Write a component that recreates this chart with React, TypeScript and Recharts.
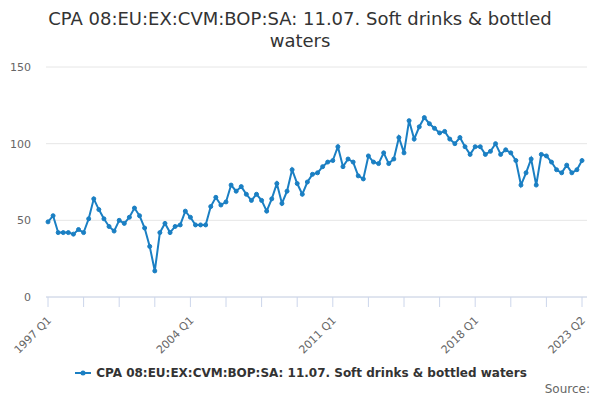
import React from 'react'
import { LineChart, Line, XAxis, YAxis, CartesianGrid } from 'recharts'

// quarterly index, 1997 Q1 .. 2023 Q2
const quarters: string[] = []
for (let y = 1997; y <= 2023; y++) {
    for (let q = 1; q <= 4; q++) {
        if (y === 2023 && q > 2) break
        quarters.push(`${y} Q${q}`)
    }
}

const values: number[] = [
    49, 53, 42, 42, 42, 41, 44, 42, 51, 64, 57, 51, 46, 43, 50, 48, 52, 58, 53, 45,
    33, 17, 42, 48, 42, 46, 47, 56, 52, 47, 47, 47, 59, 65, 60, 62, 73, 69, 72, 67,
    63, 67, 63, 56, 64, 74, 61, 69, 83, 74, 67, 75, 80, 81, 85, 88, 89, 98, 85, 90,
    88, 79, 77, 92, 88, 87, 94, 87, 90, 104, 94, 115, 103, 111, 117, 113, 110, 107, 108, 103,
    100, 104, 98, 93, 98, 98, 93, 95, 100, 93, 96, 94, 89, 73, 81, 90, 73, 93, 92, 88,
    83, 81, 86, 81, 83, 89,
]

const xTicks: number[] = [0, 7, 14, 21, 28, 35, 42, 49, 56, 63, 70, 77, 84, 91, 98, 105]
const labelledTicks: number[] = [0, 28, 56, 84, 105]
const yTicks: number[] = [0, 50, 100, 150]

const seriesName = 'CPA 08:EU:EX:CVM:BOP:SA: 11.07. Soft drinks & bottled waters'
const lineColor = '#1a7fc3'
const font = '"DejaVu Sans", sans-serif'

const data = values.map((v, i) => ({ i, label: quarters[i], value: v }))

const XTick = (props: any) => {
    const { x, y, payload } = props
    if (!labelledTicks.includes(payload.value)) return null
    const tx = x + 4
    const ty = y + 12
    return (
        <text x={tx} y={ty} textAnchor="end" fontSize={11} fill="#666666" fontFamily={font}
            transform={`rotate(-45 ${tx} ${ty})`}>
            {quarters[payload.value]}
        </text>
    )
}

const App: React.FC = () => {
    return (
        <div style={{ position: 'absolute', left: 0, top: 0, width: 600, height: 400, background: '#fff', fontFamily: font }}>
            <div style={{ position: 'absolute', top: 8, left: 40, width: 520, textAlign: 'center', fontSize: 18, lineHeight: '22px', color: '#333333' }}>
                {seriesName}
            </div>
            <LineChart width={600} height={400} data={data}
                margin={{ top: 67, right: 13, left: 0, bottom: 43 }}>
                <CartesianGrid vertical={false} stroke="#e6e6e6" />
                <XAxis dataKey="i" type="number" domain={[0, 105]} ticks={xTicks} interval={0}
                    height={60} stroke="#ccd6eb" tickSize={10} tick={<XTick />}
                    padding={{ left: 2, right: 5 }} />
                <YAxis domain={[0, 150]} ticks={yTicks} width={46} axisLine={false} tickLine={false}
                    tickMargin={9} tick={{ fontSize: 11, fill: '#666666', fontFamily: font }} />
                <Line dataKey="value" stroke={lineColor} strokeWidth={2} isAnimationActive={false}
                    dot={{ r: 2, fill: lineColor, stroke: lineColor, strokeWidth: 1 }} />
            </LineChart>
            <div style={{ position: 'absolute', top: 365, left: 0, width: 600, display: 'flex', justifyContent: 'center', alignItems: 'center' }}>
                <svg width={20} height={16} style={{ marginRight: 3 }}>
                    <line x1={2} y1={8} x2={18} y2={8} stroke={lineColor} strokeWidth={2} />
                    <circle cx={10} cy={8} r={2.5} fill={lineColor} />
                </svg>
                <span style={{ fontSize: 12, fontWeight: 'bold', color: '#333333' }}>{seriesName}</span>
            </div>
            <div style={{ position: 'absolute', top: 382, right: 10, fontSize: 12, color: '#666666' }}>
                Source:
            </div>
        </div>
    )
}

export default App
